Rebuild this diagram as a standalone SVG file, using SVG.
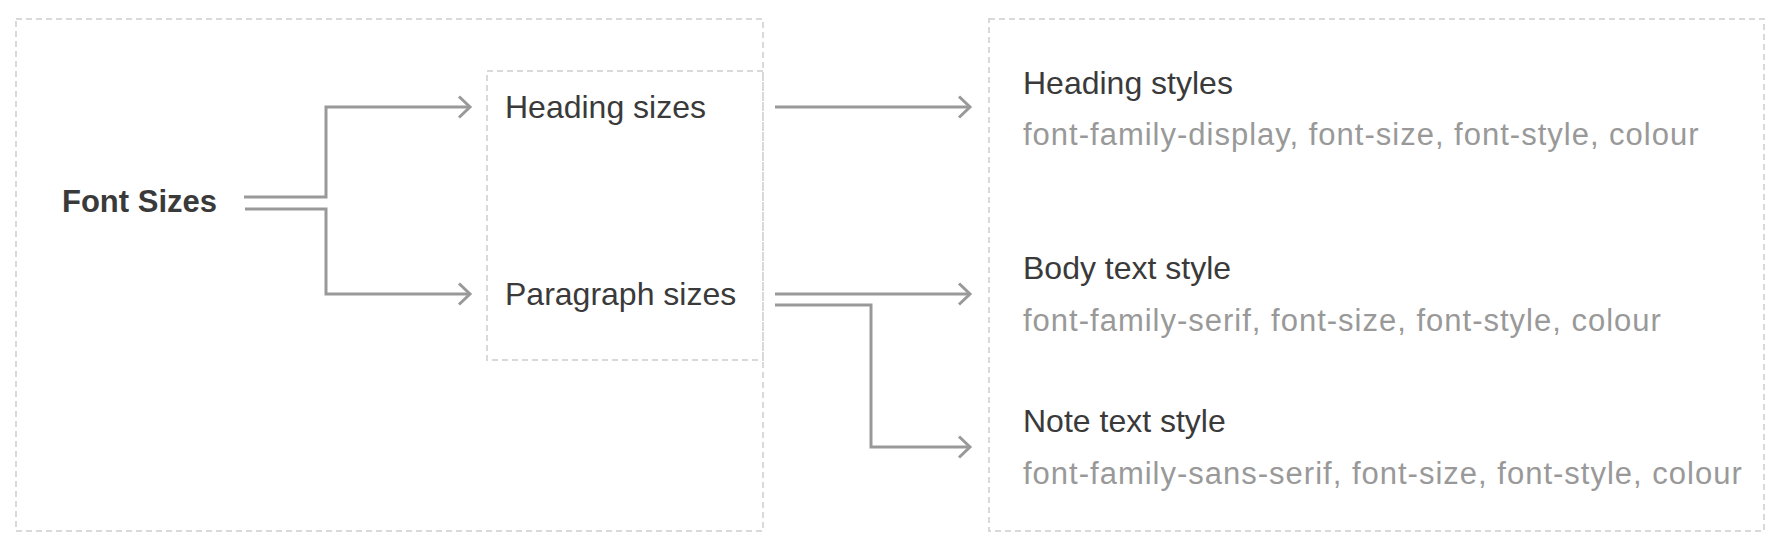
<svg xmlns="http://www.w3.org/2000/svg" width="1782" height="548" viewBox="0 0 1782 548">
  <defs>
    <style>
      .box { fill: none; stroke: #d9d9d9; stroke-width: 2; stroke-dasharray: 6 4; }
      .conn { fill: none; stroke: #999999; stroke-width: 3; }
      .lbl { font-family: "Liberation Sans", Arial, sans-serif; font-size: 32px; fill: #3a3a3a; }
      .bold { font-weight: bold; font-size: 31px; }
      .sub { font-family: "Liberation Sans", Arial, sans-serif; font-size: 31px; fill: #999999; letter-spacing: 1px; }
    </style>
    <marker id="arrow" markerUnits="userSpaceOnUse" markerWidth="16" markerHeight="24" refX="13" refY="12" orient="auto" viewBox="0 0 16 24">
      <path d="M2,1.5 L13,12 L2,22.5" fill="none" stroke="#999999" stroke-width="3"/>
    </marker>
  </defs>
  <rect width="1782" height="548" fill="#ffffff"/>

  <g id="group-left">
    <rect class="box" x="16" y="19" width="747" height="512"/>
  </g>
  <g id="group-right">
    <rect class="box" x="989" y="19" width="775" height="512"/>
  </g>

  <g id="node-font-sizes">
    <text class="lbl bold" x="62" y="212">Font Sizes</text>
  </g>
  <g id="group-sizes">
    <rect class="box" x="487" y="71" width="276" height="289"/>
  </g>
  <g id="node-heading-sizes">
    <text class="lbl" x="505" y="118">Heading sizes</text>
  </g>
  <g id="node-paragraph-sizes">
    <text class="lbl" x="505" y="305">Paragraph sizes</text>
  </g>
  <g id="node-heading-styles">
    <text class="lbl" x="1023" y="94">Heading styles</text>
    <text class="sub" x="1023" y="145">font-family-display, font-size, font-style, colour</text>
  </g>
  <g id="node-body-style">
    <text class="lbl" x="1023" y="279">Body text style</text>
    <text class="sub" x="1023" y="331">font-family-serif, font-size, font-style, colour</text>
  </g>
  <g id="node-note-style">
    <text class="lbl" x="1023" y="432">Note text style</text>
    <text class="sub" x="1023" y="484">font-family-sans-serif, font-size, font-style, colour</text>
  </g>

  <g id="connectors">
    <path class="conn" d="M244,197 H326 V107 H470" marker-end="url(#arrow)"/>
    <path class="conn" d="M245,209 H326 V294 H470" marker-end="url(#arrow)"/>
    <path class="conn" d="M775,107 H970" marker-end="url(#arrow)"/>
    <path class="conn" d="M775,294 H970" marker-end="url(#arrow)"/>
    <path class="conn" d="M775,305 H871 V447 H970" marker-end="url(#arrow)"/>
  </g>
</svg>
